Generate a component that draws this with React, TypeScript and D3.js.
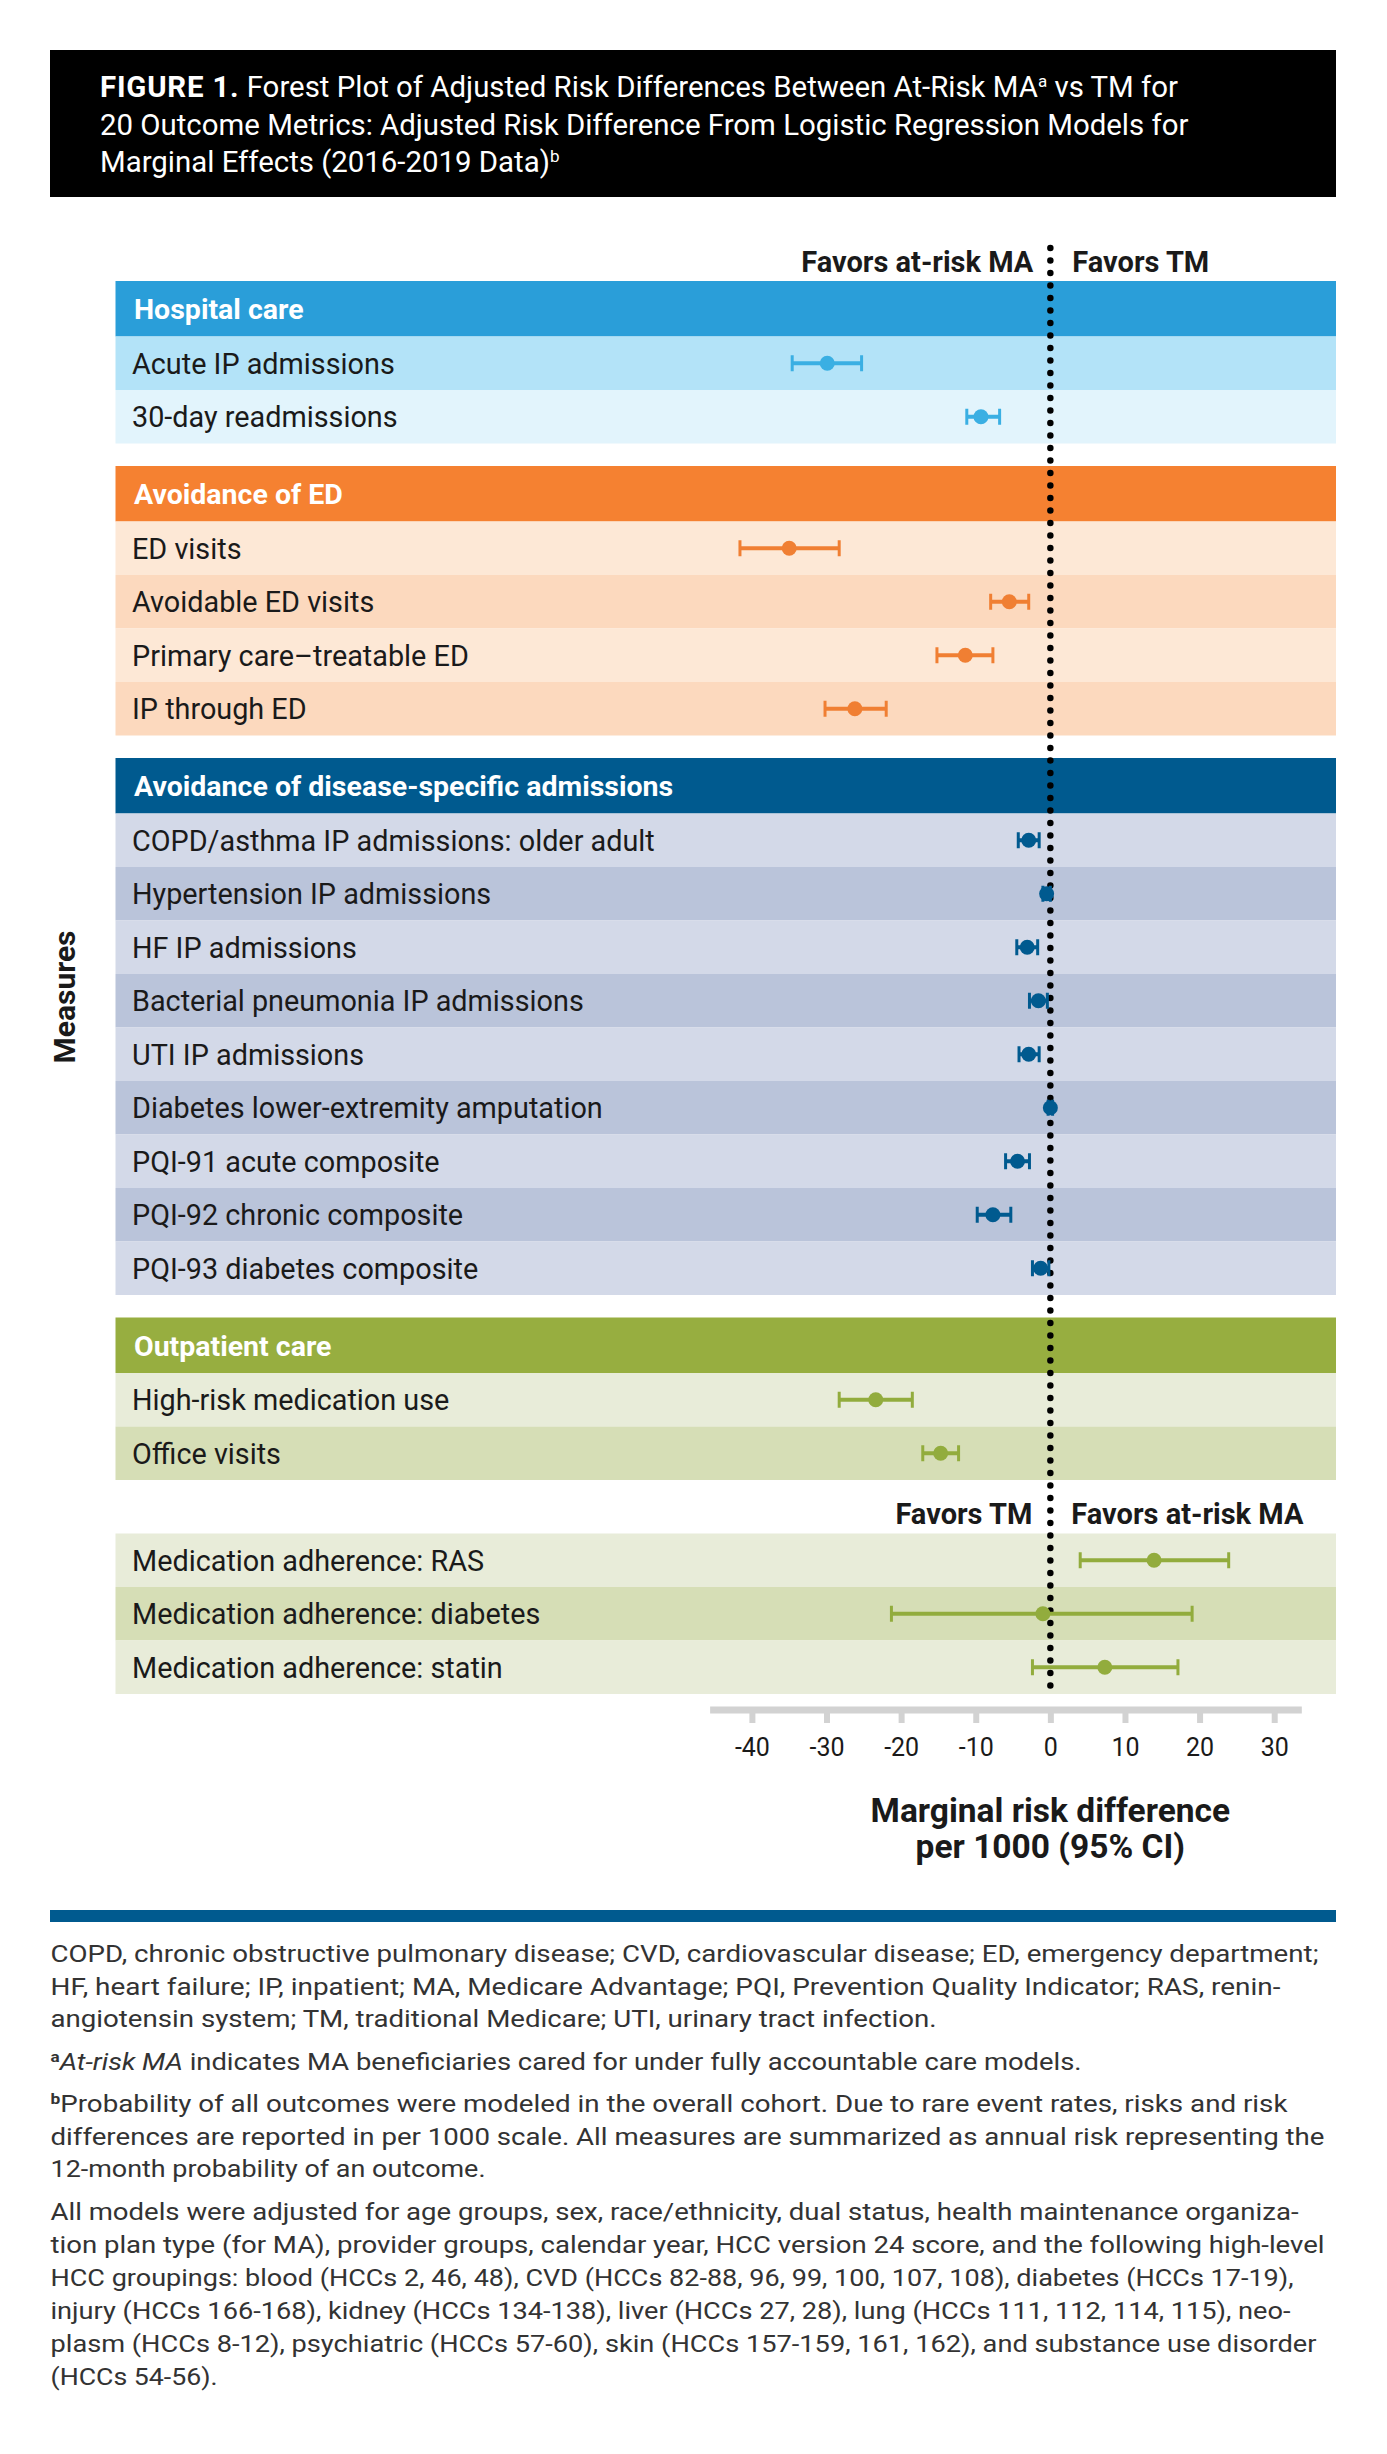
import React from 'react';
import * as d3 from 'd3';

const width = 1387;
const height = 2454;
const font = 'Roboto, sans-serif';

// groups of measures, in drawing order
const groupNames = ['Hospital care', 'Avoidance of ED', 'Avoidance of disease-specific admissions', 'Outpatient care', ''];
const headerColors = ['#2a9ed9', '#f58131', '#005a8f', '#97ae40', 'none'];
const markerColors = ['#3aafe3', '#f07f33', '#005a8f', '#92ac3d', '#92ac3d'];
const rowColors = [
  ['#b3e3f8', '#e2f4fc'],
  ['#fde8d6', '#fcd9be'],
  ['#d3d9e8', '#bac4da'],
  ['#e8ecd9', '#d6deb6'],
  ['#e8ecd9', '#d6deb6'],
];

const measures = [
  'Acute IP admissions',
  '30-day readmissions',
  'ED visits',
  'Avoidable ED visits',
  'Primary care\u2013treatable ED',
  'IP through ED',
  'COPD/asthma IP admissions: older adult',
  'Hypertension IP admissions',
  'HF IP admissions',
  'Bacterial pneumonia IP admissions',
  'UTI IP admissions',
  'Diabetes lower-extremity amputation',
  'PQI-91 acute composite',
  'PQI-92 chronic composite',
  'PQI-93 diabetes composite',
  'High-risk medication use',
  'Office visits',
  'Medication adherence: RAS',
  'Medication adherence: diabetes',
  'Medication adherence: statin',
];
const measureGroup = [0, 0, 1, 1, 1, 1, 2, 2, 2, 2, 2, 2, 2, 2, 2, 3, 3, 4, 4, 4];
const estimate = [-29.9, -9.3, -35.0, -5.5, -11.4, -26.2, -2.9, -0.5, -3.1, -1.6, -2.9, 0.0, -4.4, -7.7, -1.3, -23.4, -14.7, 13.9, -1.0, 7.3];
const lower = [-34.6, -11.2, -41.6, -8.0, -15.2, -30.2, -4.3, -1.0, -4.5, -2.8, -4.2, -0.3, -6.0, -9.8, -2.4, -28.3, -17.1, 4.0, -21.3, -2.4];
const upper = [-25.3, -6.8, -28.3, -2.9, -7.7, -22.0, -1.5, 0.0, -1.7, -0.4, -1.5, 0.3, -2.8, -5.3, -0.2, -18.5, -12.3, 23.9, 19.0, 17.1];

const favorsTop = ['Favors at-risk MA', 'Favors TM'];
const favorsBottom = ['Favors TM', 'Favors at-risk MA'];
const xTicks = [-40, -30, -20, -10, 0, 10, 20, 30];
const axisExtent = [-45.6, 33.7];
const yLabel = 'Measures';
const xLabel = ['Marginal risk difference', 'per 1000 (95% CI)'];

const footnotes = [
  'COPD, chronic obstructive pulmonary disease; CVD, cardiovascular disease; ED, emergency department;',
  'HF, heart failure; IP, inpatient; MA, Medicare Advantage; PQI, Prevention Quality Indicator; RAS, renin-',
  'angiotensin system; TM, traditional Medicare; UTI, urinary tract infection.',
];
const noteA = ['At-risk MA', ' indicates MA beneficiaries cared for under fully accountable care models.'];
const noteB = [
  'Probability of all outcomes were modeled in the overall cohort. Due to rare event rates, risks and risk',
  'differences are reported in per 1000 scale. All measures are summarized as annual risk representing the',
  '12-month probability of an outcome.',
];
const noteModels = [
  'All models were adjusted for age groups, sex, race/ethnicity, dual status, health maintenance organiza-',
  'tion plan type (for MA), provider groups, calendar year, HCC version 24 score, and the following high-level',
  'HCC groupings: blood (HCCs 2, 46, 48), CVD (HCCs 82-88, 96, 99, 100, 107, 108), diabetes (HCCs 17-19),',
  'injury (HCCs 166-168), kidney (HCCs 134-138), liver (HCCs 27, 28), lung (HCCs 111, 112, 114, 115), neo-',
  'plasm (HCCs 8-12), psychiatric (HCCs 57-60), skin (HCCs 157-159, 161, 162), and substance use disorder',
  '(HCCs 54-56).',
];
// set widths of the footnote lines, as laid out in the source
const footWidths = [1268, 1230, 886];
const noteAWidth = 1031;
const noteBWidths = [1237, 1274, 435];
const noteModelWidths = [1248, 1274, 1243, 1240, 1266, 167];

const margin = {left: 115.5, right: 51};
const top0 = 281;
const headerH = 55.5;
const rowH = 53.5;
const gapH = 22.5;
const noteX = 50.5;

const x = d3.scaleLinear().domain([-40, 30]).range([751.9, 1274.2]);

// vertical layout: header or label block, then rows
const headers: {g: number, y: number}[] = [];
const rowY: number[] = [];
let cursor = top0;
groupNames.forEach((name, g) => {
  if (name) {
    if (g > 0) cursor += gapH;
    headers.push({g, y: cursor});
    cursor += headerH;
  } else {
    headers.push({g, y: cursor});
    cursor += rowH;
  }
  measureGroup.forEach((mg, i) => {
    if (mg === g) {
      rowY[i] = cursor;
      cursor += rowH;
    }
  });
});
const plotBottom = cursor;

const App: React.FC = () => {
  const axisRef = React.useRef<SVGGElement>(null);

  React.useEffect(() => {
    document.body.style.margin = '0';
    if (!axisRef.current) return;
    const axis = d3.axisBottom(x)
      .tickValues(xTicks)
      .tickSize(13)
      .tickPadding(15)
      .tickFormat(d => `${d}`);
    const g = d3.select(axisRef.current).call(axis);
    g.select('.domain').remove();
    g.selectAll('.tick line').attr('stroke', '#d2d2d2').attr('stroke-width', 6);
    g.selectAll('.tick text')
      .attr('fill', '#1a1a1a')
      .style('font-family', font)
      .style('font-size', '25px');
  }, []);

  const rowIndex: number[] = [0, 0, 0, 0, 0];
  const axisY = plotBottom + 16;
  const labelY = headers[4].y + rowH - 9.5;

  return (
    <svg width={width} height={height} style={{display: 'block', fontFamily: font}}>
      <rect x={50} y={50} width={1286} height={147} fill='#000' />
      <text x={100} fill='#fff' fontSize={29.4}>
        <tspan y={97}>
          <tspan fontWeight='bold' letterSpacing={0.8}>FIGURE 1.</tspan>
          <tspan> Forest Plot of Adjusted Risk Differences Between At-Risk MA</tspan>
          <tspan fontSize={17} dy={-10}>a</tspan>
          <tspan dy={10}> vs TM for</tspan>
        </tspan>
        <tspan x={100} y={134.5}>20 Outcome Metrics: Adjusted Risk Difference From Logistic Regression Models for</tspan>
        <tspan x={100} y={172}>
          <tspan>Marginal Effects (2016-2019 Data)</tspan>
          <tspan fontSize={17} dy={-10}>b</tspan>
        </tspan>
      </text>

      {headers.map(({g, y}) => groupNames[g] ? (
        <g key={g}>
          <rect x={margin.left} y={y} width={width - margin.right - margin.left} height={headerH} fill={headerColors[g]} />
          <text x={134} y={y + 38} fill='#fff' fontWeight='bold' fontSize={28.5}>{groupNames[g]}</text>
        </g>
      ) : null)}

      {measures.map((m, i) => {
        const g = measureGroup[i];
        const k = rowIndex[g]++;
        return (
          <g key={m}>
            <rect x={margin.left} y={rowY[i]} width={width - margin.right - margin.left} height={rowH} fill={rowColors[g][k % 2]} />
            <text x={132} y={rowY[i] + 37} fill='#1a1a1a' fontSize={28.8}>{m}</text>
          </g>
        );
      })}

      <g fontWeight='bold' fontSize={29} fill='#1a1a1a'>
        <text x={x(0) - 17} y={top0 - 9} textAnchor='end'>{favorsTop[0]}</text>
        <text x={x(0) + 22} y={top0 - 9}>{favorsTop[1]}</text>
        <text x={x(0) - 18} y={labelY} textAnchor='end'>{favorsBottom[0]}</text>
        <text x={x(0) + 21} y={labelY}>{favorsBottom[1]}</text>
      </g>

      <line x1={x(0)} x2={x(0)} y1={248} y2={plotBottom + 4} stroke='#000' strokeWidth={6.5}
        strokeLinecap='round' strokeDasharray='0 12.5' />

      {measures.map((m, i) => {
        const cy = rowY[i] + rowH / 2;
        const c = markerColors[measureGroup[i]];
        return (
          <g key={m} stroke={c} fill={c}>
            <line x1={x(lower[i])} x2={x(upper[i])} y1={cy} y2={cy} strokeWidth={4} />
            <line x1={x(lower[i])} x2={x(lower[i])} y1={cy - 8} y2={cy + 8} strokeWidth={3} />
            <line x1={x(upper[i])} x2={x(upper[i])} y1={cy - 8} y2={cy + 8} strokeWidth={3} />
            <circle cx={x(estimate[i])} cy={cy} r={7.5} stroke='none' />
          </g>
        );
      })}

      <line x1={x(axisExtent[0])} x2={x(axisExtent[1])} y1={axisY} y2={axisY} stroke='#d2d2d2' strokeWidth={7} />
      <g ref={axisRef} transform={`translate(0, ${axisY})`} />

      <g fontWeight='bold' fontSize={33.5} fill='#1a1a1a' textAnchor='middle'>
        <text x={x(0)} y={1822}>{xLabel[0]}</text>
        <text x={x(0)} y={1858}>{xLabel[1]}</text>
      </g>

      <text transform={`translate(75, 997) rotate(-90)`} textAnchor='middle' fontWeight='bold' fontSize={30} fill='#1a1a1a'>{yLabel}</text>

      <rect x={50} y={1910} width={1286} height={12} fill='#005a8f' />

      <g fontSize={24} fill='#333'>
        {footnotes.map((t, i) => (
          <text key={t} x={noteX} y={1962 + i * 32.7} textLength={footWidths[i]} lengthAdjust='spacingAndGlyphs'>{t}</text>
        ))}
        <text x={noteX} y={2070} textLength={noteAWidth} lengthAdjust='spacingAndGlyphs'>
          <tspan fontSize={15} fontWeight='bold' dy={-8}>a</tspan>
          <tspan dy={8} fontStyle='italic'>{noteA[0]}</tspan>
          <tspan>{noteA[1]}</tspan>
        </text>
        {noteB.map((t, i) => (
          <text key={t} x={noteX} y={2112 + i * 32.7} textLength={noteBWidths[i]} lengthAdjust='spacingAndGlyphs'>
            {i === 0 ? <tspan fontSize={15} fontWeight='bold' dy={-8}>b</tspan> : null}
            <tspan dy={i === 0 ? 8 : 0}>{t}</tspan>
          </text>
        ))}
        {noteModels.map((t, i) => (
          <text key={t} x={noteX} y={2220 + i * 33} textLength={noteModelWidths[i]} lengthAdjust='spacingAndGlyphs'>{t}</text>
        ))}
      </g>
    </svg>
  );
};

export default App;
